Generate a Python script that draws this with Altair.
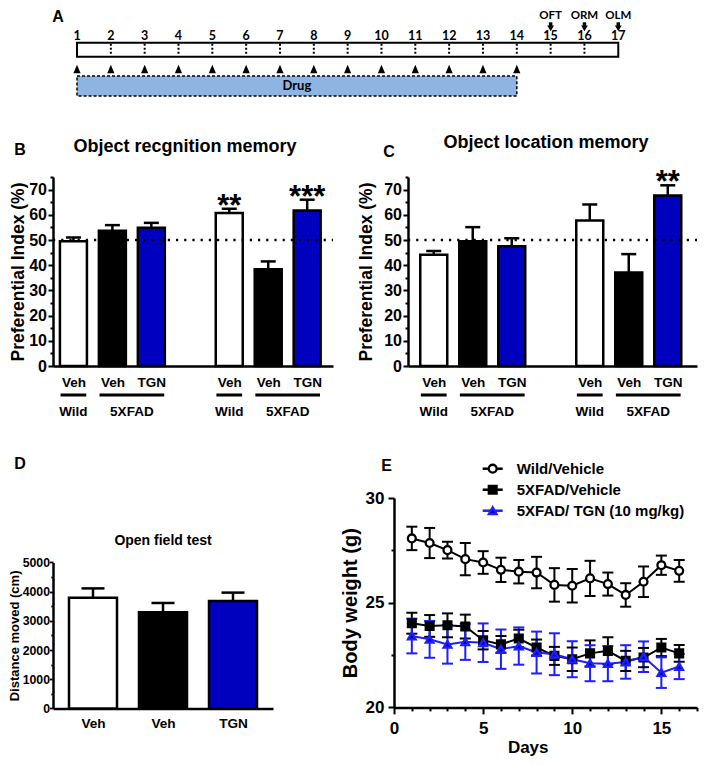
import json
import altair as alt
import pandas as pd

# ---------------- data ----------------
timeline_days = list(range(1, 18))
drug_days = list(range(1, 15))
test_names = ["OFT", "ORM", "OLM"]
test_days = [15, 16, 17]
drug_label = "Drug"

bar_pos = [0, 1, 2, 4, 5, 6]
bar_genotype = ["Wild", "5XFAD", "5XFAD", "Wild", "5XFAD", "5XFAD"]
bar_treat = ["Veh", "Veh", "TGN", "Veh", "Veh", "TGN"]
orm_mean = [49.5, 53.7, 54.9, 60.7, 38.4, 61.7]
orm_sem = [1.5, 2.2, 1.9, 1.7, 3.1, 4.3]
orm_sig = ["", "", "", "**", "", "***"]
olm_mean = [44.1, 49.5, 47.5, 57.7, 37.1, 67.7]
olm_sem = [1.5, 5.6, 3.2, 6.4, 7.3, 4.0]
olm_sig = ["", "", "", "", "", "**"]
chance_level = [50]
group_labels = ["Wild", "5XFAD", "Wild", "5XFAD"]
group_first = [0, 1, 4, 5]
group_last = [0, 2, 4, 6]

oft_pos = [0, 1, 2]
oft_genotype = ["Wild", "5XFAD", "5XFAD"]
oft_treat = ["Veh", "Veh", "TGN"]
oft_mean = [3790, 3290, 3680]
oft_sem = [320, 320, 285]

bw_days = list(range(1, 17))
wild_mean = [28.07, 27.85, 27.51, 27.08, 26.92, 26.57, 26.48, 26.44,
             25.85, 25.81, 26.16, 25.89, 25.37, 26.00, 26.79, 26.52]
wild_sem = [0.56, 0.72, 0.40, 0.77, 0.54, 0.58, 0.56, 0.75,
            0.80, 0.80, 0.84, 0.55, 0.56, 0.73, 0.46, 0.52]
fad_mean = [24.02, 23.89, 23.92, 23.86, 23.21, 23.01, 23.29, 22.86,
            22.46, 22.30, 22.58, 22.70, 22.22, 22.38, 22.86, 22.58]
fad_sem = [0.50, 0.52, 0.57, 0.57, 0.44, 0.40, 0.42, 0.38,
           0.43, 0.56, 0.62, 0.65, 0.48, 0.46, 0.41, 0.40]
tgn_mean = [23.41, 23.25, 23.01, 23.13, 23.09, 22.78, 22.93, 22.62,
            22.54, 22.30, 22.11, 22.09, 22.17, 22.42, 21.66, 21.95]
tgn_sem = [0.83, 0.88, 0.92, 0.86, 0.92, 0.94, 0.89, 1.00,
           1.00, 0.86, 0.86, 0.84, 0.80, 0.73, 0.73, 0.60]
series_names = ["Wild/Vehicle", "5XFAD/Vehicle", "5XFAD/ TGN (10 mg/kg)"]

# ---------------- style ----------------
FONT = "Liberation Sans"
FONT_A = "Lato"
BLUE_BAR = "#0000bf"
BLUE_LINE = "#1e1eff"
DRUG_FILL = "#8db4e2"
TRI_PATH = "M0,-1L0.85,1L-0.85,1Z"
KEYS = ["Wild/Veh", "5XFAD/Veh", "5XFAD/TGN"]
LEFT = -45  # common left extent of every row (keeps rows aligned)


def tick_cond(every, big, small):
    return {"condition": {"test": f"datum.value % {every} === 0", "value": big}, "value": small}


def text_layer(txt, x, y, size, font=FONT, align="center"):
    return alt.Chart(pd.DataFrame({"t": [txt]})).mark_text(
        font=font, fontSize=size, fontWeight="bold", align=align, baseline="middle", color="black"
    ).encode(text="t:N", x=alt.value(x), y=alt.value(y))


def frame_layer(x1, x2, y1, y2):
    return alt.Chart(pd.DataFrame({"f": [0]})).mark_rule(opacity=0).encode(
        x=alt.value(x1), x2=alt.value(x2), y=alt.value(y1), y2=alt.value(y2))


# ---------------- panel A ----------------
A_PX_DAY = 33.83
A_LEAD = 24  # px between plot edge and day 1
A_W = A_LEAD + A_PX_DAY * (timeline_days[-1] - timeline_days[0])
A_H = 92
xsA = alt.Scale(domain=[timeline_days[0] - A_LEAD / A_PX_DAY, timeline_days[-1]], nice=False, zero=False)


def XA(f):
    return alt.X(f"{f}:Q", scale=xsA, axis=None)


days_df = pd.DataFrame({"day": timeline_days, "lab": [str(d) for d in timeline_days]})
inner_df = days_df[(days_df.day > timeline_days[0]) & (days_df.day < timeline_days[-1])]
drug_df = pd.DataFrame({"day": drug_days})
tests_df = pd.DataFrame({"day": test_days, "name": test_names})
box_df = pd.DataFrame({"start": [timeline_days[0]], "end": [timeline_days[-1]]})
drugbox_df = pd.DataFrame({"start": [drug_days[0]], "end": [drug_days[-1]],
                           "mid": [(drug_days[0] + drug_days[-1]) / 2], "name": [drug_label]})

a_box = alt.Chart(box_df).mark_rect(fill="white", stroke="black", strokeWidth=2).encode(
    x=XA("start"), x2="end:Q", y=alt.value(34.7), y2=alt.value(48.7))
a_div = alt.Chart(inner_df).mark_rule(strokeDash=[2, 2], strokeWidth=2, color="black").encode(
    x=XA("day"), y=alt.value(35.7), y2=alt.value(47.7))
a_num = alt.Chart(days_df).mark_text(font=FONT_A, fontSize=12.5, fontWeight="bold", color="black").encode(
    x=XA("day"), y=alt.value(27.8), text="lab:N")
a_tri = alt.Chart(drug_df).mark_point(shape=TRI_PATH, filled=True, size=72, color="black", opacity=1).encode(
    x=XA("day"), y=alt.value(61))
a_drug = alt.Chart(drugbox_df).mark_rect(fill=DRUG_FILL, stroke="black", strokeDash=[3, 2], strokeWidth=1.5).encode(
    x=XA("start"), x2="end:Q", y=alt.value(68), y2=alt.value(88))
a_drugt = alt.Chart(drugbox_df).mark_text(font=FONT_A, fontSize=13, fontWeight="bold", color="black").encode(
    x=XA("mid"), y=alt.value(78), text="name:N")
a_tests = alt.Chart(tests_df).mark_text(font=FONT_A, fontSize=11.5, fontWeight="bold", color="black").encode(
    x=XA("day"), y=alt.value(7.5), text="name:N")
a_shaft = alt.Chart(tests_df).mark_rule(strokeWidth=3.5, color="black").encode(
    x=XA("day"), y=alt.value(14.3), y2=alt.value(18))
a_head = alt.Chart(tests_df).mark_point(shape="triangle-down", filled=True, size=46, color="black", opacity=1).encode(
    x=XA("day"), y=alt.value(20.4))

panelA = alt.layer(
    frame_layer(LEFT, 644, 0, 92), a_drug, a_drugt, a_box, a_div, a_num, a_tri, a_tests, a_shaft, a_head,
    text_layer("A", 5, 8.5, 16),
).properties(width=A_W, height=A_H)


# ---------------- panels B / C ----------------
def memory_panel(means, sems, sigs, title, letter, W, xdom, title_xy, letter_xy, ytitle_x, frame_x):
    H = 189
    df = pd.DataFrame({
        "pos": bar_pos,
        "key": [g + "/" + t for g, t in zip(bar_genotype, bar_treat)],
        "mean": means,
        "top": [m + s for m, s in zip(means, sems)],
        "sig": sigs,
    })
    labels = [""] * (max(bar_pos) + 1)
    for p, t in zip(bar_pos, bar_treat):
        labels[p] = t
    xs = alt.Scale(domain=xdom, nice=False, zero=False)
    ys = alt.Scale(domain=[0, 75], nice=False)
    xaxis = alt.Axis(values=bar_pos, labelExpr=json.dumps(labels) + "[datum.value]", ticks=False,
                     domainWidth=2.5, domainColor="black", labelFont=FONT, labelFontSize=13.5,
                     labelFontWeight="bold", labelColor="black", labelPadding=9, labelFlush=False,
                     labelOverlap=False, grid=False, title=None)
    yaxis = alt.Axis(values=list(range(0, 76, 5)), labelExpr="datum.value % 10 === 0 ? datum.label : ''",
                     tickSize=tick_cond(10, 5, 3), tickWidth=2, tickColor="black", domainWidth=2.5,
                     domainColor="black", labelFont=FONT, labelFontSize=16, labelFontWeight="bold",
                     labelColor="black", labelPadding=1.5, labelOverlap=False, labelFlush=False, grid=False,
                     title="Preferential Index (%)", titleFont=FONT, titleFontSize=17.5, titleFontWeight="bold",
                     titleColor="black", titleX=ytitle_x, titleBaseline="middle")

    def X(f):
        return alt.X(f"{f}:Q", scale=xs, axis=xaxis)

    def Y(f):
        return alt.Y(f"{f}:Q", scale=ys, axis=yaxis)

    base = alt.Chart(df)
    err = base.mark_rule(strokeWidth=2.5, color="black").encode(x=X("pos"), y=Y("mean"), y2="top:Q")
    cap = base.mark_tick(orient="horizontal", size=15, thickness=2.5, color="black", opacity=1).encode(
        x=X("pos"), y=Y("top"))
    bars = base.mark_bar(size=27, stroke="black", strokeWidth=2.5, orient="vertical").encode(
        x=X("pos"), y=Y("mean"), y2=alt.datum(0),
        fill=alt.Fill("key:N", scale=alt.Scale(domain=KEYS, range=["white", "black", BLUE_BAR]), legend=None))
    ref = alt.Chart(pd.DataFrame({"v": chance_level})).mark_rule(
        strokeDash=[2.2, 6], strokeWidth=2.5, color="black").encode(
        x=alt.value(0), x2=alt.value(W), y=Y("v"))
    stars = base.mark_text(font=FONT, fontSize=31, fontWeight="bold", baseline="alphabetic", dy=7,
                           color="black").encode(x=X("pos"), y=Y("top"), text="sig:N")
    gdf = pd.DataFrame({
        "gs": [f - 0.33 for f in group_first],
        "ge": [l + 0.33 for l in group_last],
        "gc": [(f + l) / 2 for f, l in zip(group_first, group_last)],
        "label": group_labels,
    })
    glines = alt.Chart(gdf).mark_rule(strokeWidth=3, color="black").encode(
        x=X("gs"), x2="ge:Q", y=alt.value(218))
    gtext = alt.Chart(gdf).mark_text(font=FONT, fontSize=13.5, fontWeight="bold", color="black").encode(
        x=X("gc"), y=alt.value(235), text="label:N")
    return alt.layer(
        frame_layer(frame_x[0], frame_x[1], -77, 253), err, cap, bars, ref, stars, glines, gtext,
        text_layer(title, title_xy[0], title_xy[1], 18),
        text_layer(letter, letter_xy[0], letter_xy[1], 16),
    ).properties(width=W, height=H)


panelB = memory_panel(orm_mean, orm_sem, orm_sig, "Object recgnition memory", "B", 280,
                      [-0.396, -0.396 + 280 / 40.4], (132, -30), (-33, -27), -34.5, (LEFT, 302))
panelC = memory_panel(olm_mean, olm_sem, olm_sig, "Object location memory", "C", 289,
                      [-0.532, -0.532 + 289 / 40.4], (138, -34), (-19, -25), -41.5, (-53, 289))


# ---------------- panel D ----------------
def oft_panel():
    W, H = 220, 210.4
    df = pd.DataFrame({
        "pos": oft_pos,
        "key": [g + "/" + t for g, t in zip(oft_genotype, oft_treat)],
        "mean": oft_mean,
        "top": [m + s for m, s in zip(oft_mean, oft_sem)],
    })
    xs = alt.Scale(domain=[-0.5, 2.5], nice=False, zero=False)
    ys = alt.Scale(domain=[0, 5000], range=[210.4, 64.4], nice=False)
    xaxis = alt.Axis(values=oft_pos, labelExpr=json.dumps(oft_treat) + "[datum.value]", ticks=False,
                     domainWidth=2.5, domainColor="black", labelFont=FONT, labelFontSize=13.6,
                     labelFontWeight="bold", labelColor="black", labelPadding=8, labelFlush=False,
                     labelOverlap=False, grid=False, title=None)
    yaxis = alt.Axis(values=list(range(0, 5001, 500)), format="d",
                     labelExpr="datum.value % 1000 === 0 ? datum.label : ''",
                     tickSize=tick_cond(1000, 3.5, 2.2), tickWidth=1.8, tickColor="black", domainWidth=2.5,
                     domainColor="black", labelFont=FONT, labelFontSize=12.3, labelFontWeight="bold",
                     labelColor="black", labelPadding=0, labelOverlap=False, labelFlush=False, grid=False,
                     title="Distance moved (cm)", titleFont=FONT, titleFontSize=13, titleFontWeight="bold",
                     titleColor="black", titleX=-38.3, titleBaseline="middle")

    def X(f):
        return alt.X(f"{f}:Q", scale=xs, axis=xaxis)

    def Y(f):
        return alt.Y(f"{f}:Q", scale=ys, axis=yaxis)

    base = alt.Chart(df)
    err = base.mark_rule(strokeWidth=2.5, color="black").encode(x=X("pos"), y=Y("mean"), y2="top:Q")
    cap = base.mark_tick(orient="horizontal", size=23, thickness=2.5, color="black", opacity=1).encode(
        x=X("pos"), y=Y("top"))
    bars = base.mark_bar(size=48, stroke="black", strokeWidth=2.5, orient="vertical").encode(
        x=X("pos"), y=Y("mean"), y2=alt.datum(0),
        fill=alt.Fill("key:N", scale=alt.Scale(domain=KEYS, range=["white", "black", BLUE_BAR]), legend=None))
    return alt.layer(
        frame_layer(LEFT, 283, -67.3, 257.7), err, cap, bars,
        text_layer("Open field test", 110, 42.7, 14),
        text_layer("D", -33, -34.3, 16),
    ).properties(width=W, height=H)


panelD = oft_panel()


# ---------------- panel E ----------------
def weight_panel():
    W, H = 303, 209.4
    rows = []
    for name, m, s in zip(series_names, [wild_mean, fad_mean, tgn_mean], [wild_sem, fad_sem, tgn_sem]):
        for d, mm, ss in zip(bw_days, m, s):
            rows.append({"day": d, "series": name, "mean": mm, "lo": mm - ss, "hi": mm + ss})
    df = pd.DataFrame(rows)
    xs = alt.Scale(domain=[0, 17], nice=False, zero=False)
    ys = alt.Scale(domain=[20, 30], nice=False, zero=False)
    xaxis = alt.Axis(values=list(range(0, 18)), labelExpr="datum.value % 5 === 0 ? datum.label : ''",
                     tickSize=tick_cond(5, 6.5, 3.5), tickWidth=2, tickColor="black", domainWidth=2.5,
                     domainColor="black", labelFont=FONT, labelFontSize=17, labelFontWeight="bold",
                     labelColor="black", labelPadding=7, labelOverlap=False, labelFlush=False, grid=False,
                     title="Days", titleFont=FONT, titleFontSize=17, titleFontWeight="bold", titleColor="black",
                     titleX=133.7, titleY=40.3, titleBaseline="middle")
    yaxis = alt.Axis(values=[20, 22.5, 25, 27.5, 30], labelExpr="datum.value % 5 === 0 ? datum.label : ''",
                     tickSize=tick_cond(5, 6, 3), tickWidth=2, tickColor="black", domainWidth=2.5,
                     domainColor="black", labelFont=FONT, labelFontSize=17, labelFontWeight="bold",
                     labelColor="black", labelPadding=4, labelOverlap=False, labelFlush=False, grid=False,
                     title="Body weight (g)", titleFont=FONT, titleFontSize=20, titleFontWeight="bold",
                     titleColor="black", titleX=-43.8, titleBaseline="middle")

    def X(f):
        return alt.X(f"{f}:Q", scale=xs, axis=xaxis)

    def Y(f):
        return alt.Y(f"{f}:Q", scale=ys, axis=yaxis)

    cs = alt.Scale(domain=series_names, range=["black", "black", BLUE_LINE])
    fs = alt.Scale(domain=series_names, range=["white", "black", BLUE_LINE])
    ss = alt.Scale(domain=series_names, range=["circle", "square", "triangle-up"])
    zs = alt.Scale(domain=series_names, range=[62, 59, 55])
    col = alt.Color("series:N", scale=cs, legend=None)
    sym = dict(shape=alt.Shape("series:N", scale=ss, legend=None),
               fill=alt.Fill("series:N", scale=fs, legend=None),
               stroke=alt.Stroke("series:N", scale=cs, legend=None),
               size=alt.Size("series:N", scale=zs, legend=None))

    base = alt.Chart(df)
    err = base.mark_rule(strokeWidth=2).encode(x=X("day"), y=Y("lo"), y2="hi:Q", color=col)
    cap_lo = base.mark_tick(orient="horizontal", size=11, thickness=2, opacity=1).encode(
        x=X("day"), y=Y("lo"), color=col)
    cap_hi = base.mark_tick(orient="horizontal", size=11, thickness=2, opacity=1).encode(
        x=X("day"), y=Y("hi"), color=col)
    line = base.mark_line(strokeWidth=2).encode(x=X("day"), y=Y("mean"), color=col)
    pts = base.mark_point(opacity=1, strokeWidth=2.3).encode(x=X("day"), y=Y("mean"), **sym)

    legend_layers = []
    for i, name in enumerate(series_names):
        ly = -29.3 + 21 * i
        row = alt.Chart(pd.DataFrame({"series": [name]}))
        legend_layers.append(row.mark_rule(strokeWidth=2.5).encode(
            x=alt.value(88.7), x2=alt.value(108.7), y=alt.value(ly), color=col))
        legend_layers.append(row.mark_point(opacity=1, strokeWidth=2.3).encode(
            x=alt.value(98.7), y=alt.value(ly), **sym))
        legend_layers.append(row.mark_text(font=FONT, fontSize=15, fontWeight="bold", align="left",
                                           color="black").encode(
            x=alt.value(122.7), y=alt.value(ly), text="series:N"))

    return alt.layer(
        frame_layer(-57.3, 303.7, -67.3, 257.7), err, cap_lo, cap_hi, line, pts, *legend_layers,
        text_layer("E", -7.3, -32.3, 16),
    ).properties(width=W, height=H)


panelE = weight_panel()

row1 = alt.hconcat(panelA, spacing=0)
row2 = alt.hconcat(panelB, panelC, spacing=0)
row3 = alt.hconcat(panelD, panelE, spacing=0)

chart = alt.vconcat(row1, row2, row3, spacing=0, padding=0).configure_view(stroke=None)

chart.save("out.html", embed_options={"renderer": "svg", "actions": False})
